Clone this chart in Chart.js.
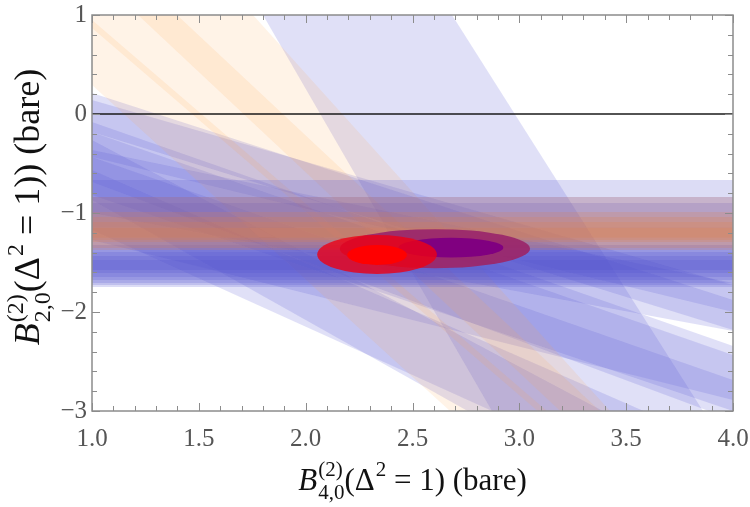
<!DOCTYPE html>
<html>
<head>
<meta charset="utf-8">
<script src="https://cdn.jsdelivr.net/npm/chart.js@4.4.1/dist/chart.umd.min.js"></script>
<style>
  body { margin: 0; background: #fff; }
  #wrap { width: 750px; height: 507px; }
</style>
</head>
<body>
<div id="wrap"><canvas id="bandChart"></canvas></div>
<script>
// x positions where every band edge is given
const bandX = [1, 4];

// sloped bands: [upper at x=1, upper at x=4, lower at x=1, lower at x=4]
const orangeBands = [
  [2.804, -4.378, 0.293, -5.603],
  [1.804, -4.257, 1.436, -4.637],
  [0.949, -4.614, 0.869, -4.695]
];
const blueBands = [
  [6.737, -3.478, 3.987, -7.209],
  [0.212, -1.879, -0.182, -2.182],
  [0.141, -1.727, -0.434, -2.000],
  [-0.364, -1.707, -1.000, -2.192],
  [-0.081, -2.343, -0.687, -3.091],
  [-0.182, -2.434, -0.818, -3.000],
  [-0.434, -2.687, -1.273, -2.889],
  [-0.263, -3.697, -0.869, -4.505],
  [-0.566, -3.394, -1.172, -4.101]
];

// flat bands: [top, bottom]
const flatOrange = [[-0.838, -1.374], [-0.99, -1.354], [-1.04, -1.293], [-1.09, -1.273], [-1.15, -1.25]];
const flatBlue = [[-0.667, -1.747], [-0.838, -1.727], [-0.9, -1.707], [-1.323, -1.677],
                  [-1.394, -1.646], [-1.434, -1.606], [-1.475, -1.576]];

// ellipses (purple outer, purple inner, red outer, red inner)
const ellipseX = [2.605, 2.68, 2.334, 2.334];
const ellipseY = [-1.36, -1.35, -1.42, -1.424];
const ellipseRx = [0.445, 0.245, 0.28, 0.14];
const ellipseRy = [0.197, 0.10, 0.197, 0.10];
const ellipseColors = ["rgba(155,40,108,0.95)", "rgba(128,0,128,1)", "rgba(238,0,20,0.8)", "rgba(255,0,0,1)"];

const zeroLineY = 0;

const xTicks = [1, 1.5, 2, 2.5, 3, 3.5, 4];
const yTicks = [-3, -2, -1, 0, 1];

const ORANGE = "rgba(255,160,70,0.13)";
const ORANGE_FLAT = "rgba(225,125,65,0.2)";
const BLUE = "rgba(90,90,210,0.19)";
const BLUE_FLAT = "rgba(80,80,205,0.2)";
const FONT = "'Liberation Serif', 'DejaVu Serif', serif";

function bandSets(b, color) {
  return [
    { data: [{ x: bandX[0], y: b[0] }, { x: bandX[1], y: b[1] }], fill: "+1", backgroundColor: color },
    { data: [{ x: bandX[0], y: b[2] }, { x: bandX[1], y: b[3] }], fill: false }
  ];
}

// first in the list is drawn last (on top)
const datasets = [];
flatOrange.forEach(b => datasets.push(...bandSets([b[0], b[0], b[1], b[1]], ORANGE_FLAT)));
flatBlue.forEach(b => datasets.push(...bandSets([b[0], b[0], b[1], b[1]], BLUE_FLAT)));
orangeBands.forEach(b => datasets.push(...bandSets(b, ORANGE)));
blueBands.forEach(b => datasets.push(...bandSets(b, BLUE)));

// ellipses, zero line, inward ticks, frame
const extras = {
  id: "extras",
  afterDatasetsDraw(chart) {
    const { ctx, chartArea: a, scales: { x, y } } = chart;
    ctx.save();
    ctx.beginPath();
    ctx.rect(a.left, a.top, a.right - a.left, a.bottom - a.top);
    ctx.clip();
    for (let i = 0; i < ellipseX.length; i++) {
      const cx = x.getPixelForValue(ellipseX[i]);
      const cy = y.getPixelForValue(ellipseY[i]);
      const rx = Math.abs(x.getPixelForValue(ellipseX[i] + ellipseRx[i]) - cx);
      const ry = Math.abs(y.getPixelForValue(ellipseY[i] + ellipseRy[i]) - cy);
      ctx.beginPath();
      ctx.ellipse(cx, cy, rx, ry, 0, 0, Math.PI * 2);
      ctx.fillStyle = ellipseColors[i];
      ctx.fill();
    }
    const zy = y.getPixelForValue(zeroLineY);
    ctx.strokeStyle = "#1a1a1a";
    ctx.lineWidth = 1.6;
    ctx.beginPath();
    ctx.moveTo(a.left, zy);
    ctx.lineTo(a.right, zy);
    ctx.stroke();
    ctx.restore();

    ctx.save();
    ctx.strokeStyle = "#8c8c8c";
    ctx.lineWidth = 1;
    for (let i = 0; i <= 30; i++) {
      const px = Math.round(x.getPixelForValue(1 + i / 10)) + 0.5;
      const len = i % 5 === 0 ? 8 : 5;
      ctx.beginPath();
      ctx.moveTo(px, a.bottom); ctx.lineTo(px, a.bottom - len);
      ctx.moveTo(px, a.top); ctx.lineTo(px, a.top + len);
      ctx.stroke();
    }
    for (let i = 0; i <= 20; i++) {
      const py = Math.round(y.getPixelForValue(-3 + i * 0.2)) + 0.5;
      const len = i % 5 === 0 ? 8 : 5;
      ctx.beginPath();
      ctx.moveTo(a.left, py); ctx.lineTo(a.left + len, py);
      ctx.moveTo(a.right, py); ctx.lineTo(a.right - len, py);
      ctx.stroke();
    }
    ctx.lineWidth = 1.5;
    ctx.strokeRect(a.left, a.top, a.right - a.left, a.bottom - a.top);
    ctx.restore();
  },
  afterDraw(chart) {
    const { ctx, chartArea: a } = chart;
    const xTitle = [["B", "it"], ["(2)", "4,0"], ["(Δ"], ["2", "sup"], [" = 1) (bare)"]];
    const yTitle = [["B", "it"], ["(2)", "2,0"], ["(Δ"], ["2", "sup"], [" = 1)) (bare)"]];
    ctx.save();
    drawMath(ctx, xTitle, (a.left + a.right) / 2, 490, 31);
    ctx.translate(39, 207);
    ctx.rotate(-Math.PI / 2);
    drawMath(ctx, yTitle, 0, 0, 36);
    ctx.restore();
  }
};

function drawMath(ctx, parts, cx, base, size) {
  const small = Math.round(size * 0.68);
  const up = size * 0.44, down = size * 0.3;
  const fnt = (s, it) => (it ? "italic " : "") + s + "px " + FONT;
  const isStack = p => p.length === 2 && p[1] !== "it" && p[1] !== "sup";
  let w = 0;
  const widths = parts.map(p => {
    let pw;
    if (isStack(p)) {
      ctx.font = fnt(small);
      pw = Math.max(ctx.measureText(p[0]).width, ctx.measureText(p[1]).width);
    } else if (p[1] === "sup") {
      ctx.font = fnt(small); pw = ctx.measureText(p[0]).width + 1;
    } else {
      ctx.font = fnt(size, p[1] === "it"); pw = ctx.measureText(p[0]).width + (p[1] === "it" ? 1 : 0);
    }
    w += pw;
    return pw;
  });
  let x = cx - w / 2;
  ctx.fillStyle = "#111";
  ctx.textBaseline = "alphabetic";
  ctx.textAlign = "left";
  parts.forEach((p, i) => {
    if (isStack(p)) {
      ctx.font = fnt(small);
      ctx.fillText(p[0], x, base - up);
      ctx.fillText(p[1], x, base + down);
    } else if (p[1] === "sup") {
      ctx.font = fnt(small);
      ctx.fillText(p[0], x + 1, base - up);
    } else {
      ctx.font = fnt(size, p[1] === "it");
      ctx.fillText(p[0], x, base);
    }
    x += widths[i];
  });
}

new Chart(document.getElementById("bandChart"), {
  type: "line",
  data: { datasets: datasets },
  options: {
    responsive: true,
    maintainAspectRatio: false,
    animation: false,
    layout: { padding: { top: 15, right: 17, left: 0, bottom: 0 } },
    elements: {
      point: { radius: 0, hoverRadius: 0 },
      line: { borderWidth: 0, borderColor: "rgba(0,0,0,0)", tension: 0 }
    },
    plugins: { legend: { display: false }, tooltip: { enabled: false } },
    scales: {
      x: {
        type: "linear", min: 1, max: 4,
        grid: { display: false, drawTicks: false }, border: { display: false },
        afterBuildTicks: s => { s.ticks = xTicks.map(v => ({ value: v })); },
        ticks: { callback: v => v.toFixed(1), font: { family: FONT, size: 25 }, color: "#555", padding: 13, maxRotation: 0 },
        afterFit: s => { s.height = 96; s.paddingLeft = 0; s.paddingRight = 0; }
      },
      y: {
        type: "linear", min: -3, max: 1,
        grid: { display: false, drawTicks: false }, border: { display: false },
        afterBuildTicks: s => { s.ticks = yTicks.map(v => ({ value: v })); },
        ticks: { callback: v => (v < 0 ? "\u2212" + Math.abs(v) : String(v)), font: { family: FONT, size: 25 }, color: "#555", padding: 5 },
        afterFit: s => { s.width = 92; s.paddingTop = 0; s.paddingBottom = 0; }
      }
    }
  },
  plugins: [extras]
});
</script>
</body>
</html>
